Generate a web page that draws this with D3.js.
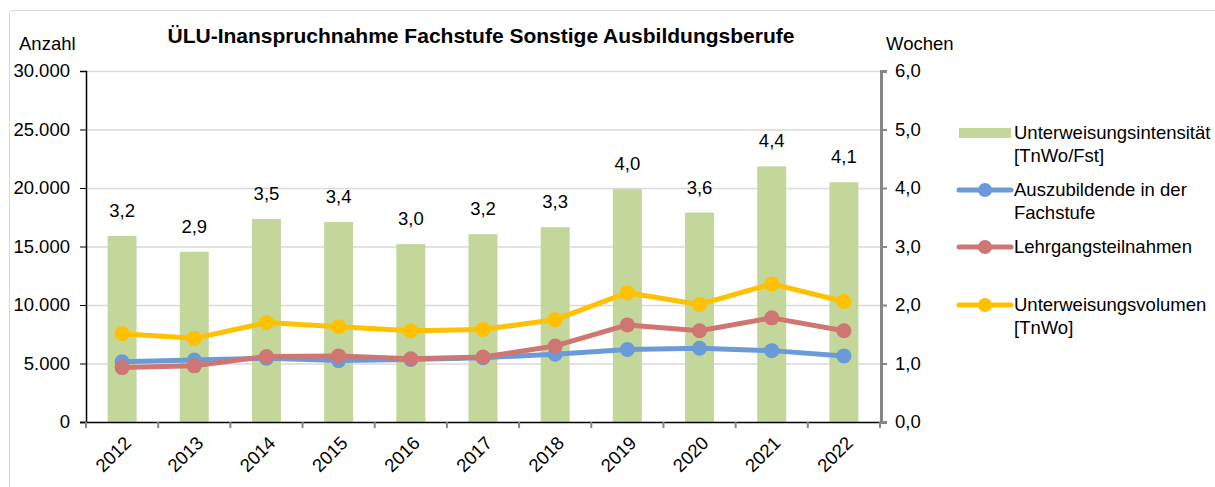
<!DOCTYPE html>
<html>
<head>
<meta charset="utf-8">
<script src="https://cdn.jsdelivr.net/npm/d3@7"></script>
<style>
  body { margin: 0; background: #fff; }
  svg { font-family: "Liberation Sans", Arial, sans-serif; }
</style>
</head>
<body>
<svg id="chart" width="1215" height="487"></svg>
<script>
// years on the x axis
const years = ["2012", "2013", "2014", "2015", "2016", "2017", "2018", "2019", "2020", "2021", "2022"];
// Unterweisungsintensität [TnWo/Fst] - right axis (bars)
const intensitaet = [3.18, 2.91, 3.47, 3.42, 3.04, 3.21, 3.33, 3.98, 3.58, 4.37, 4.10];
// Auszubildende in der Fachstufe - left axis
const azubis = [5150, 5300, 5450, 5250, 5350, 5500, 5800, 6200, 6300, 6100, 5650];
// Lehrgangsteilnahmen - left axis
const teilnahmen = [4650, 4800, 5600, 5650, 5400, 5550, 6500, 8300, 7800, 8900, 7800];
// Unterweisungsvolumen [TnWo] - left axis
const volumen = [7550, 7150, 8500, 8150, 7800, 7900, 8750, 11050, 10050, 11800, 10300];

const leftTicks = [0, 5000, 10000, 15000, 20000, 25000, 30000];
const rightTicks = [0, 1, 2, 3, 4, 5, 6];

const svg = d3.select("#chart");
const fs = "18.5px";

// outer frame of the chart
svg.append("rect")
    .attr("x", 9.5).attr("y", 10.5)
    .attr("width", 1300).attr("height", 600)
    .attr("rx", 3)
    .style("fill", "none")
    .style("stroke", "#d9d9d9");

const pLeft = 86, pRight = 880, pTop = 71, pBottom = 422;

const x = d3.scaleBand().domain(years).range([pLeft, pRight]);
const xPos = d3.scalePoint().domain(years).range([pLeft, pRight]).padding(0.5);
const yL = d3.scaleLinear().domain([0, 30000]).range([pBottom, pTop]);
const yR = d3.scaleLinear().domain([0, 6]).range([pBottom, pTop]);

const fmtL = v => d3.format(",")(v).replace(/,/g, ".");
const fmtR = v => d3.format(".1f")(v).replace(".", ",");

// gridlines
svg.append("g")
    .selectAll("line")
    .data(leftTicks.filter(d => d > 0))
    .enter().append("line")
    .attr("x1", pLeft).attr("x2", pRight)
    .attr("y1", d => yL(d) + 0.5).attr("y2", d => yL(d) + 0.5)
    .style("stroke", "#d9d9d9")
    .style("stroke-width", 1.5);

// bars
const bw = 29;
svg.append("g")
    .selectAll("rect")
    .data(intensitaet)
    .enter().append("rect")
    .attr("x", (d, i) => xPos(years[i]) - bw / 2)
    .attr("width", bw)
    .attr("y", d => yR(d))
    .attr("height", d => pBottom - yR(d))
    .style("fill", "#c4d79b");

// bar labels
svg.append("g")
    .selectAll("text")
    .data(intensitaet)
    .enter().append("text")
    .attr("x", (d, i) => xPos(years[i]))
    .attr("y", d => yR(d) - 19)
    .attr("text-anchor", "middle")
    .style("font-size", fs)
    .text(d => fmtR(Math.round(d * 10) / 10));

// lines
const series = [
    { name: "azubis", values: azubis, color: "#6a9bd8" },
    { name: "teilnahmen", values: teilnahmen, color: "#cf7673" },
    { name: "volumen", values: volumen, color: "#ffc000" }
];

const line = d3.line()
    .x((d, i) => xPos(years[i]))
    .y(d => yL(d));

series.forEach(s => {
    svg.append("path")
        .datum(s.values)
        .attr("d", line)
        .style("fill", "none")
        .style("stroke", s.color)
        .style("stroke-width", 5)
        .style("stroke-linejoin", "round");

    svg.append("g")
        .selectAll("circle")
        .data(s.values)
        .enter().append("circle")
        .attr("cx", (d, i) => xPos(years[i]))
        .attr("cy", d => yL(d))
        .attr("r", 7.5)
        .style("fill", s.color);
});

// left axis
const axL = svg.append("g")
    .attr("transform", `translate(${pLeft},0)`)
    .call(d3.axisLeft(yL).tickValues(leftTicks).tickFormat(fmtL).tickSize(6).tickPadding(10));
axL.select(".domain").style("stroke", "#000").style("stroke-width", 1.5);
axL.selectAll(".tick line").style("stroke", "#000");
axL.selectAll("text").style("font-size", fs).style("fill", "#000").attr("font-family", null);

// right axis
const axR = svg.append("g")
    .attr("transform", `translate(${pRight + 1},0)`)
    .call(d3.axisRight(yR).tickValues(rightTicks).tickFormat(fmtR).tickSize(6).tickPadding(8));
axR.select(".domain").style("stroke", "#868686").style("stroke-width", 3);
axR.selectAll(".tick line").style("stroke", "#868686").style("stroke-width", 2);
axR.selectAll("text").style("font-size", fs).style("fill", "#000").attr("font-family", null);

// x axis line
svg.append("line")
    .attr("x1", pLeft - 6).attr("x2", pRight)
    .attr("y1", pBottom + 0.5).attr("y2", pBottom + 0.5)
    .style("stroke", "#000").style("stroke-width", 1.5);

// category boundary ticks
svg.append("g")
    .selectAll("line")
    .data(years.concat(["end"]))
    .enter().append("line")
    .attr("x1", d => d === "end" ? pRight : x(d))
    .attr("x2", d => d === "end" ? pRight : x(d))
    .attr("y1", pBottom).attr("y2", pBottom + 6)
    .style("stroke", "#868686").style("stroke-width", 2);

// rotated year labels
svg.append("g")
    .selectAll("text")
    .data(years)
    .enter().append("text")
    .attr("transform", d => `translate(${xPos(d) + 1},${pBottom + 13}) rotate(-45)`)
    .attr("text-anchor", "end")
    .attr("dy", "0.7em")
    .style("font-size", fs)
    .text(d => d);

// titles
svg.append("text")
    .attr("x", 481).attr("y", 43)
    .attr("text-anchor", "middle")
    .style("font-size", "21px")
    .style("font-weight", "bold")
    .text("ÜLU-Inanspruchnahme Fachstufe Sonstige Ausbildungsberufe");

svg.append("text")
    .attr("x", 19).attr("y", 50)
    .style("font-size", fs)
    .text("Anzahl");

svg.append("text")
    .attr("x", 886).attr("y", 50)
    .style("font-size", fs)
    .text("Wochen");

// legend
const legend = [
    { type: "bar", color: "#c4d79b", lines: ["Unterweisungsintensität", "[TnWo/Fst]"], y: 133 },
    { type: "line", color: "#6a9bd8", lines: ["Auszubildende in der", "Fachstufe"], y: 190 },
    { type: "line", color: "#cf7673", lines: ["Lehrgangsteilnahmen"], y: 247 },
    { type: "line", color: "#ffc000", lines: ["Unterweisungsvolumen", "[TnWo]"], y: 305 }
];

const lg = svg.append("g");
legend.forEach(l => {
    if (l.type === "bar") {
        lg.append("rect")
            .attr("x", 959).attr("y", l.y - 5)
            .attr("width", 52).attr("height", 10)
            .style("fill", l.color);
    } else {
        lg.append("line")
            .attr("x1", 959).attr("x2", 1011)
            .attr("y1", l.y).attr("y2", l.y)
            .style("stroke", l.color).style("stroke-width", 5)
            .style("stroke-linecap", "round");
        lg.append("circle")
            .attr("cx", 985).attr("cy", l.y)
            .attr("r", 7)
            .style("fill", l.color);
    }
    l.lines.forEach((t, j) => {
        lg.append("text")
            .attr("x", 1014).attr("y", l.y + 6 + j * 23)
            .style("font-size", fs)
            .text(t);
    });
});
</script>
</body>
</html>
